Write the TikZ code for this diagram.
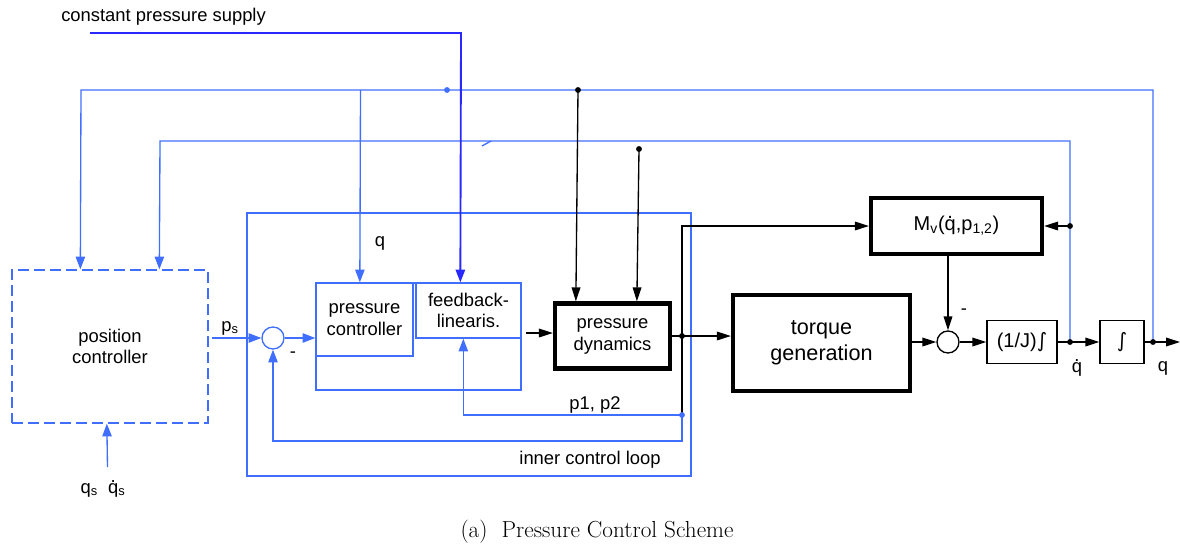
\documentclass[tikz,border=0pt]{standalone}
\usepackage{fontspec}
\setsansfont{Liberation Sans}
\newfontfamily\symfont{DejaVu Sans}
\usetikzlibrary{arrows.meta,calc}
\definecolor{cblue}{RGB}{64,110,255}
\definecolor{sblue}{RGB}{40,40,255}
\newcommand\dq{\leavevmode\ooalign{q\cr\hidewidth\raisebox{0.6em}{.}\hidewidth\cr}}
\newcommand\intg{{\symfont ∫}}
\tikzset{
  sz/.style 2 args={minimum width={#1*0.75pt},minimum height={#2*0.75pt}},
  lab/.style={font=\sffamily\fontsize{13.8}{16.5}\selectfont,inner sep=0pt},
  bl/.style={draw=cblue,line width=1pt},
  sl/.style={draw=sblue,line width=1.4pt},
  kl/.style={draw=black,line width=1pt},
  bt/.tip={Triangle[length=9.5pt,width=7pt]},
  kt/.tip={Triangle[length=10.5pt,width=6.5pt]},
  bbox/.style={draw=cblue,line width=1pt,inner sep=0pt,align=center,font=\sffamily\fontsize{13.8}{16}\selectfont},
  dbox/.style={draw=cblue,line width=1pt,dash pattern=on 8pt off 4pt,inner sep=0pt,align=center,font=\sffamily\fontsize{13.8}{16}\selectfont},
  thk/.style={draw=black,line width=3.2pt,inner sep=0pt,align=center,font=\sffamily\fontsize{13.8}{16.5}\selectfont},
  thn/.style={draw=black,line width=1pt,inner sep=0pt,align=center,font=\sffamily\fontsize{15}{18}\selectfont},
  sumc/.style={draw=black,line width=1pt,circle,inner sep=0pt,minimum size=16.5pt},
  sumb/.style={draw=cblue,line width=1pt,circle,inner sep=0pt,minimum size=16.5pt},
  kdot/.style={fill=black},
  bdot/.style={fill=cblue}
}
\begin{document}
\begin{tikzpicture}[x=0.75pt,y=-0.75pt]
\useasboundingbox (0,0) rectangle (1180,547);
% boxes
\node[dbox,sz={196}{153}] (pos) at (110,346.5) {position\\controller};
\node[bbox,sz={444}{263}] (inner) at (469,344.5) {};
\node[bbox,sz={205}{107}] (grp) at (418.5,336.5) {};
\node[bbox,sz={97}{73}] (pc) at (364.5,319.5) {pressure\\controller};
\node[bbox,sz={105}{55}] (fl) at (468.5,310.5) {feedback-\\linearis.};
\node[thk,sz={115}{65}] (pd) at (612.5,336) {pressure\\dynamics};
\node[thk,sz={177}{96},font=\sffamily\fontsize{16.2}{19.5}\selectfont] (tg) at (821.5,343) {torque\\generation};
\node[thk,sz={171}{56},font=\sffamily\fontsize{15}{18}\selectfont] (mv) at (956.5,226) {M\textsubscript{v}(\dq,p\textsubscript{1,2})};
\node[thn,sz={70}{43}] (J) at (1022,342) {(1/J)\intg};
\node[thn,sz={44}{43}] (I) at (1122,342) {\intg};
\node[sumb] (s1) at (273,338) {};
\node[sumc] (s2) at (948,342) {};
% coordinates
\coordinate (j) at (682,336);
\coordinate (dq) at (1070,342);
\coordinate (qo) at (1153,342);
\coordinate (qend) at (1180,342);
\coordinate (tap) at (682,415);
\coordinate (sup) at (90,33);
\coordinate (ddot) at (639,149);
\coordinate (qsin) at (107.5,467);
\coordinate (psout) at (212,338);
\coordinate (flo) at (526,333);
\coordinate (mvr) at (1070,226);
\coordinate (top1) at (578,90);
\coordinate (top2) at (447,90);
% blue feedback lines
\draw[bl,-{bt}] (qo) -- (1153,90) -- (81,90) -- ($(pos.north west)+(69,0)$);
\draw[bl,-{bt}] (360.5,90) -- ($(pc.north west)+(44.5,0)$);
\draw[bl,-{bt}] (dq) -- (1070,141) -- (160,141) -- ($(pos.north west)+(148,0)$);
\draw[bl] (482,146) -- (491,141);
\draw[sl,-{bt}] (sup) -- (461,33) -- ($(fl.north west)+(45,0)$);
\draw[bl,-{bt}] (psout) -- (s1.west);
\draw[bl,-{bt}] (s1.east) -- (pc.west |- s1);
\draw[bl,-{bt}] (tap) -| ($(fl.south west)+(48,0)$);
\draw[bl,-{bt}] (tap) -- (682,441) -| (s1.south);
\draw[bl,-{bt}] (qsin) -- ($(pos.south west)+(95.5,0)$);
% black signal lines
\draw[kl,-{kt}] (top1) -- ($(pd.north west)+(23,0)$);
\draw[kl,-{kt}] (ddot) -- ($(pd.north west)+(84,0)$);
\draw[kl,-{kt}] (flo) -- (pd.west |- flo);
\draw[kl] (pd.east) -- (j);
\draw[kl,-{kt}] (j) -- (tg.west |- j);
\draw[kl,-{kt}] (j) -- (682,226) -- (mv.west);
\draw[kl] (j) -- (tap);
\draw[kl,-{kt}] (mvr) -- (mv.east);
\draw[kl,-{kt}] (tg.east |- s2) -- (s2.west);
\draw[kl,-{kt}] (mv.south -| s2) -- (s2.north);
\draw[kl,-{kt}] (s2.east) -- (J.west |- s2);
\draw[kl,-{kt}] (J.east) -- (I.west);
\draw[kl,-{kt}] (I.east) -- (qend);
% dots
\fill[bdot] (top2) circle (2.2pt);
\fill[bdot] (tap) circle (2.2pt);
\fill[kdot] (top1) circle (2.2pt);
\fill[kdot] (ddot) circle (2.2pt);
\fill[kdot] (j) circle (2.2pt);
\fill[kdot] (dq) circle (2.2pt);
\fill[kdot] (qo) circle (2.2pt);
\fill[kdot] (mvr) circle (2.2pt);
% labels
\node[lab,anchor=west] (lsup) at (61,17) {constant pressure supply};
\node[lab] (lq) at (380,243) {q};
\node[lab] (lps) at (230,328) {p\textsubscript{s}};
\node[lab] (lm1) at (293,355) {-};
\node[lab] (lm2) at (964,312) {-};
\node[lab] (lp12) at (595,405) {p1, p2};
\node[lab] (lin) at (590,460) {inner control loop};
\node[lab] (lqs) at (103,490) {q\textsubscript{s}\ \ \dq\textsubscript{s}};
\node[lab] (ldq) at (1077,368) {\dq};
\node[lab] (lq2) at (1163,368) {q};
\node[font=\rmfamily\fontsize{17.4}{20}\selectfont,inner sep=0pt] (cap) at (597,532) {(a)\ \ Pressure Control Scheme};
\end{tikzpicture}
\end{document}
